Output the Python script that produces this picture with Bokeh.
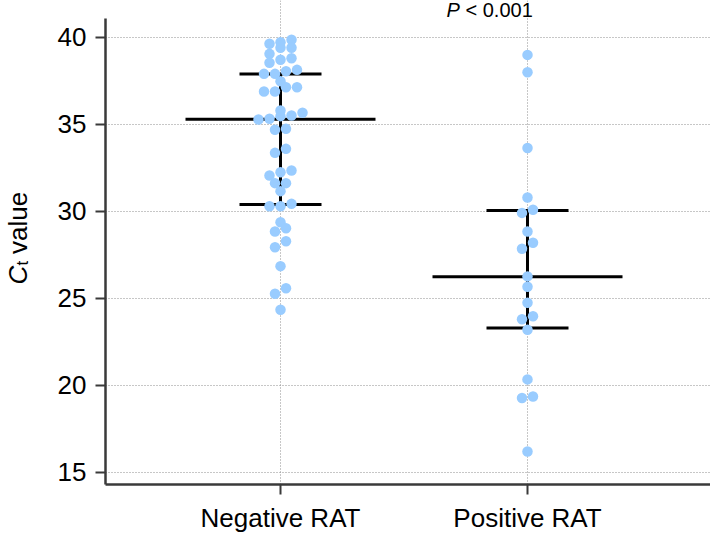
import numpy as np
from bokeh.plotting import figure
from bokeh.layouts import row
from bokeh.models import Range1d, FixedTicker, Label
from bokeh.embed import file_html
from bokeh.resources import INLINE

# ---------------- data ----------------
categories = ["Negative RAT", "Positive RAT"]
negative_rat = [39.87, 39.73, 39.64, 39.41, 39.41, 39.06, 38.81, 38.72, 38.55, 38.14,
                38.06, 37.91, 37.91, 37.49, 37.14, 37.14, 36.90, 36.90, 35.80, 35.67,
                35.52, 35.48, 35.33, 35.29, 34.75, 34.70, 33.60, 33.37, 32.36, 32.26,
                32.07, 31.63, 31.63, 31.17, 30.44, 30.30, 30.30, 29.38, 29.04, 28.85,
                28.29, 27.95, 26.86, 25.59, 25.27, 24.35]
positive_rat = [39.00, 38.00, 33.65, 30.80, 30.10, 29.92, 28.85, 28.20, 27.86, 26.27,
                25.67, 24.76, 23.98, 23.81, 23.20, 20.35, 19.37, 19.28, 16.21]
medians = [35.30, 26.25]
q1 = [30.40, 23.30]
q3 = [37.90, 30.06]
y_ticks = [15, 20, 25, 30, 35, 40]
p_value_text = "< 0.001"

# ---------------- layout ----------------
W, H = 710, 535
LW = 40                       # width of the strip holding the y-axis title
frame_left, frame_bottom_px = 105, 51
frame_w = W - frame_left
frame_h = H - frame_bottom_px
x_start, x_end = -0.7085, 1.7409
y_start, y_axis_top, y_end = 14.31, 41.09, 42.126
ppu_x = frame_w / (x_end - x_start)
ppu_y = frame_h / (y_end - y_start)

FONT = "Liberation Sans"
AX = "#3a3a3a"
FS = "26px"


def cx(c):
    return x_start + (c - frame_left) / ppu_x


def cy(c):
    return y_end - c / ppu_y


def swarm_offsets(vals, row_h=0.4):
    vals = np.asarray(vals)
    order = np.argsort(vals, kind="stable")
    rows, cur, start = [], [], None
    for i in order:
        v = vals[i]
        if start is None or v - start > row_h:
            if cur:
                rows.append(cur)
            cur, start = [i], v
        else:
            cur.append(i)
    if cur:
        rows.append(cur)
    offs = np.zeros(len(vals))
    for r in rows:
        n = len(r)
        for k, i in enumerate(r):
            offs[i] = k - (n - 1) / 2
    return offs


p = figure(width=W - LW, height=H, x_range=Range1d(x_start, x_end), y_range=Range1d(y_start, y_end),
           output_backend="svg", toolbar_location=None,
           min_border_left=frame_left - LW, min_border_right=0,
           min_border_top=0, min_border_bottom=frame_bottom_px)
p.outline_line_color = None
p.background_fill_color = "white"
p.border_fill_color = "white"

for ax in (p.xaxis[0], p.yaxis[0]):
    ax.axis_line_color = AX
    ax.axis_line_width = 2.5
    ax.major_tick_line_color = AX
    ax.major_tick_line_width = 2
    ax.major_tick_in = 0
    ax.minor_tick_line_color = None
    ax.major_label_text_font = FONT
    ax.major_label_text_font_size = FS
    ax.major_label_text_color = "black"

p.yaxis.ticker = FixedTicker(ticks=y_ticks)
p.yaxis.bounds = (y_start, y_axis_top)
p.yaxis.major_tick_out = 10
p.yaxis.major_label_standoff = 9

cat_pos = list(range(len(categories)))
p.xaxis.ticker = FixedTicker(ticks=cat_pos)
p.xaxis.major_label_overrides = {i: c for i, c in enumerate(categories)}
p.xaxis.major_tick_out = 10
p.xaxis.major_label_standoff = 8

for g in (p.xgrid[0], p.ygrid[0]):
    g.grid_line_color = "#8f8f8f"
    g.grid_line_dash = "1 2"
    g.grid_line_width = 1
p.xgrid.ticker = FixedTicker(ticks=cat_pos)
p.ygrid.ticker = FixedTicker(ticks=y_ticks)

# median / quartile lines
med_half = 95 / ppu_x
q_half = 41 / ppu_x
xc = np.array(cat_pos, dtype=float)
p.segment(x0=xc, x1=xc, y0=q1, y1=q3, line_color="black", line_width=3)
p.segment(x0=xc - med_half, x1=xc + med_half, y0=medians, y1=medians, line_color="black", line_width=3)
p.segment(x0=xc - q_half, x1=xc + q_half, y0=q1, y1=q1, line_color="black", line_width=3)
p.segment(x0=xc - q_half, x1=xc + q_half, y0=q3, y1=q3, line_color="black", line_width=3)

# dots (swarm)
step = 11 / ppu_x
for i, vals in enumerate([negative_rat, positive_rat]):
    xs = i + swarm_offsets(vals) * step
    p.scatter(x=xs, y=vals, size=10.5, fill_color="#99ccff", line_color=None)

# P value text
p.add_layout(Label(x=cx(446), y=cy(9), text="P", text_font=FONT, text_font_style="italic",
                   text_font_size="20px", text_align="left", text_baseline="alphabetic", text_color="black"))
p.add_layout(Label(x=cx(465), y=cy(9), text=p_value_text, text_font=FONT,
                   text_font_size="20px", text_align="left", text_baseline="alphabetic", text_color="black"))

# y axis title strip: C_t value (coordinates = canvas pixels; frame aligned with main frame)
lab = figure(width=LW, height=H, x_range=Range1d(0, LW), y_range=Range1d(frame_h, 0),
             output_backend="svg", toolbar_location=None, x_axis_location=None, y_axis_location=None,
             min_border_left=0, min_border_right=0, min_border_top=0, min_border_bottom=frame_bottom_px)
lab.outline_line_color = None
lab.grid.visible = False
lab.add_layout(Label(x=17, y=284, text="C", angle=np.pi / 2, text_font=FONT, text_font_style="italic",
                     text_font_size=FS, text_align="left", text_baseline="alphabetic", text_color="black"))
lab.add_layout(Label(x=22, y=265, text="t", angle=np.pi / 2, text_font=FONT,
                     text_font_size="17px", text_align="left", text_baseline="alphabetic", text_color="black"))
lab.add_layout(Label(x=17, y=253.5, text="value", angle=np.pi / 2, text_font=FONT,
                     text_font_size=FS, text_align="left", text_baseline="alphabetic", text_color="black"))

layout = row(lab, p)
open("out.html", "w").write(file_html(layout, INLINE))
